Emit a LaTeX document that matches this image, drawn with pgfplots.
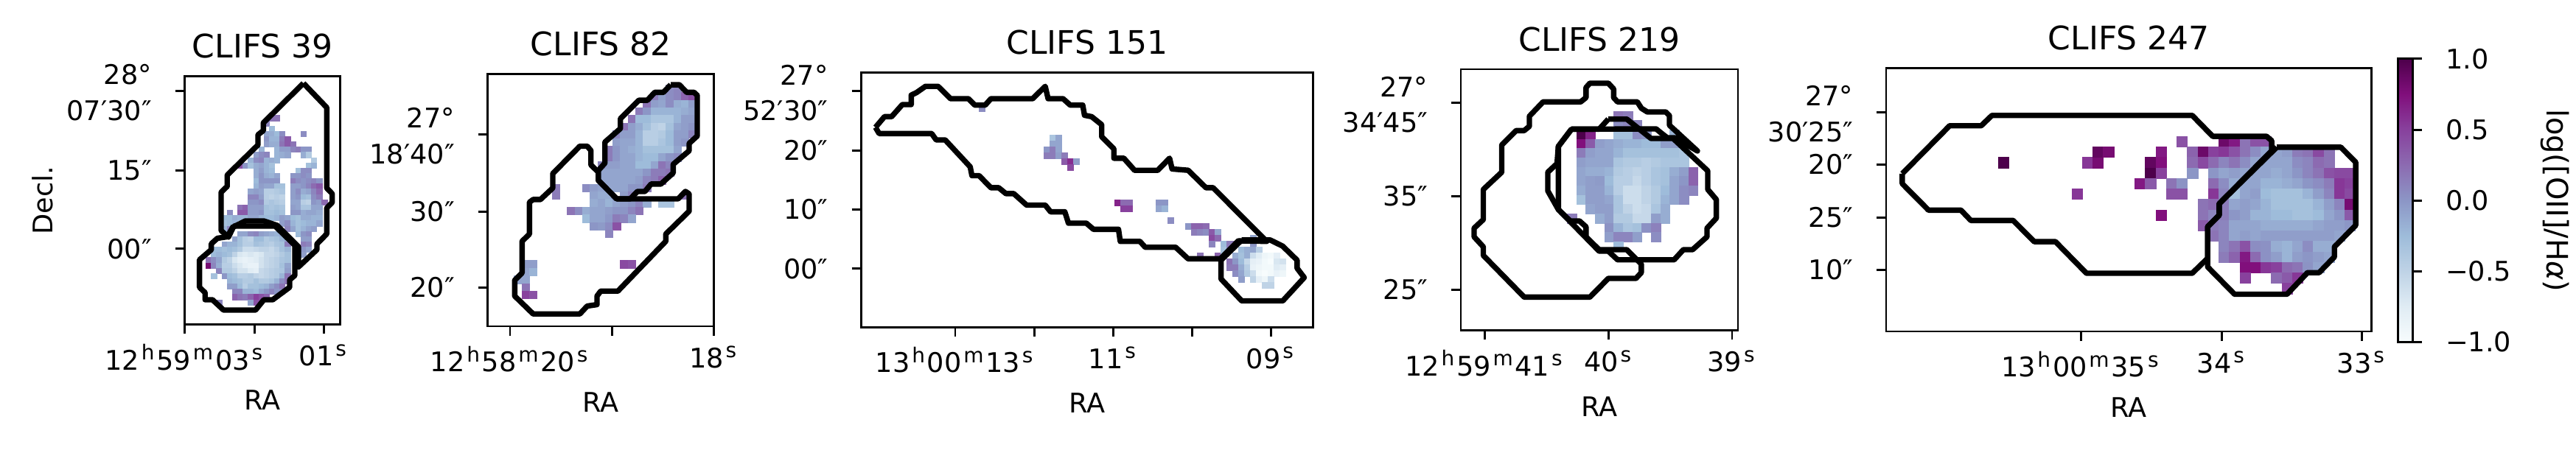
\documentclass[border=0pt]{standalone}
\usepackage{fontspec}
\setmainfont{DejaVu Sans}
\usepackage{pgfplots}
\usepackage{pgfplotstable}
\pgfplotsset{compat=1.18}

\newcommand{\sps}[1]{\kern.7pt\raisebox{.37em}{\fontsize{7}{7}\selectfont #1}\kern.7pt}
\newcommand{\hms}[3]{#1\sps{h}#2\sps{m}#3\sps{s}}
\newcommand{\secs}[1]{#1\sps{s}}
\newcommand{\dms}[2]{\begin{tabular}{@{}r@{}}\rule{0pt}{11.5pt}#1\\#2\end{tabular}}

% cells: column, row, log([OII]/Ha)
\pgfplotstableread[row sep=\\]{i j v\\
8 -3 .2\\ 9 -3 .2\\ 7 -2 .1\\ 8 -1 -.25\\
7 0 -.1\\ 8 0 -.15\\ 9 0 -.25\\ 10 0 .05\\ 14 0 .05\\
7 1 0\\ 8 1 -.2\\ 9 1 -.2\\ 10 1 .15\\ 11 1 .35\\
7 2 -.05\\ 8 2 -.15\\ 9 2 -.15\\ 10 2 .2\\ 11 2 .35\\ 12 2 .2\\
6 3 -.2\\ 9 3 -.2\\ 10 3 -.05\\ 11 3 -.05\\ 12 3 .1\\ 13 3 .15\\ 14 3 0\\ 15 3 0\\
5 4 -.05\\ 6 4 .05\\ 7 4 .1\\ 9 4 -.2\\ 10 4 -.15\\ 11 4 -.1\\ 14 4 -.15\\ 15 4 -.4\\
4 5 -.2\\ 5 5 .05\\ 6 5 .1\\ 7 5 -.2\\ 8 5 -.15\\ 9 5 -.2\\ 16 5 -.4\\
2 6 .4\\ 3 6 0\\ 4 6 -.3\\ 5 6 -.15\\ 6 6 -.1\\ 7 6 -.2\\ 8 6 -.3\\ 15 6 -.3\\ 16 6 -.2\\
5 7 -.15\\ 6 7 -.05\\ 7 7 -.2\\ 8 7 -.25\\ 13 7 -.3\\ 14 7 .05\\ 15 7 .05\\
5 8 -.15\\ 6 8 0\\ 7 8 -.15\\ 8 8 -.2\\ 9 8 -.1\\ 12 8 0\\ 13 8 0\\ 14 8 .05\\ 15 8 0\\
5 9 -.25\\ 6 9 0\\ 7 9 0\\ 8 9 0\\ 9 9 0\\ 12 9 .15\\ 13 9 .05\\ 14 9 0\\ 15 9 .05\\ 16 9 .1\\ 17 9 0\\
5 10 -.2\\ 6 10 -.05\\ 7 10 -.1\\ 8 10 -.1\\ 9 10 -.3\\ 10 10 -.3\\ 12 10 -.05\\ 13 10 -.05\\ 14 10 0\\ 15 10 .1\\ 16 10 .25\\ 17 10 .35\\
4 11 -.1\\ 5 11 -.05\\ 6 11 -.1\\ 7 11 -.45\\ 8 11 -.45\\ 9 11 -.4\\ 10 11 -.35\\ 12 11 -.05\\ 13 11 .05\\ 14 11 -.15\\ 15 11 -.1\\ 16 11 .1\\ 17 11 .25\\
4 12 .1\\ 5 12 .1\\ 6 12 -.05\\ 7 12 -.45\\ 8 12 -.5\\ 9 12 -.45\\ 10 12 -.5\\ 12 12 -.05\\ 13 12 0\\ 14 12 -.25\\ 15 12 -.3\\ 16 12 .05\\ 17 12 .15\\
4 13 0\\ 5 13 0\\ 6 13 .05\\ 7 13 -.4\\ 8 13 -.35\\ 9 13 -.4\\ 10 13 -.45\\ 12 13 -.1\\ 13 13 -.1\\ 14 13 -.45\\ 15 13 -.5\\ 16 13 0\\ 17 13 -.05\\ 18 13 .25\\
2 14 .2\\ 3 14 .3\\ 4 14 -.05\\ 5 14 -.05\\ 6 14 -.05\\ 7 14 -.3\\ 8 14 -.35\\ 9 14 -.3\\ 10 14 -.35\\ 12 14 -.05\\ 13 14 -.1\\ 14 14 -.35\\ 15 14 -.35\\ 16 14 -.1\\ 17 14 -.1\\
0 15 .05\\ 2 15 .35\\ 3 15 .35\\ 4 15 -.05\\ 5 15 -.05\\ 6 15 0\\ 7 15 -.3\\ 8 15 -.3\\ 9 15 -.25\\ 10 15 -.3\\ 12 15 0\\ 13 15 0\\ 14 15 -.15\\ 15 15 -.1\\ 16 15 -.1\\ 17 15 -.15\\
-1 16 -.25\\ 0 16 -.25\\ 1 16 -.15\\ 2 16 -.2\\ 3 16 -.2\\ 4 16 -.1\\ 5 16 -.1\\ 6 16 -.2\\ 7 16 -.25\\ 8 16 -.25\\ 9 16 -.2\\ 10 16 -.05\\ 11 16 -.1\\ 12 16 -.25\\ 13 16 -.3\\ 14 16 -.15\\ 15 16 -.15\\ 16 16 -.2\\ 17 16 -.2\\
-1 17 -.3\\ 0 17 -.25\\ 1 17 -.2\\ 10 17 -.05\\ 11 17 .05\\ 12 17 -.2\\ 13 17 -.3\\ 14 17 -.25\\ 15 17 -.2\\ 16 17 -.2\\ 17 17 -.1\\
-1 18 -.2\\ 0 18 .1\\ 11 18 .1\\ 12 18 -.1\\ 13 18 -.3\\ 14 18 -.2\\ 15 18 -.1\\ 16 18 -.05\\
2 19 -.1\\ 3 19 -.1\\ 4 19 .05\\ 5 19 .1\\ 6 19 -.05\\ 7 19 -.1\\ 8 19 -.15\\ 9 19 -.2\\ 10 19 -.1\\ 13 19 -.25\\ 14 19 0\\ 15 19 .05\\
1 20 -.1\\ 2 20 -.3\\ 3 20 -.45\\ 4 20 -.5\\ 5 20 -.25\\ 6 20 -.25\\ 7 20 -.4\\ 8 20 -.35\\ 9 20 -.3\\ 10 20 -.2\\ 11 20 -.1\\ 14 20 -.05\\ 15 20 -.05\\
-1 21 -.1\\ 0 21 -.2\\ 1 21 -.2\\ 2 21 -.3\\ 3 21 -.45\\ 4 21 -.45\\ 5 21 -.3\\ 6 21 -.35\\ 7 21 -.4\\ 8 21 -.45\\ 9 21 -.35\\ 10 21 -.3\\ 11 21 .15\\ 14 21 .15\\ 15 21 .1\\
-3 22 -.25\\ -2 22 -.25\\ -1 22 -.3\\ 0 22 -.25\\ 1 22 -.3\\ 2 22 -.4\\ 3 22 -.6\\ 4 22 -.6\\ 5 22 -.55\\ 6 22 -.5\\ 7 22 -.5\\ 8 22 -.55\\ 9 22 -.45\\ 10 22 -.3\\ 11 22 -.2\\ 14 22 0\\ 15 22 -.1\\
-3 23 -.25\\ -2 23 -.2\\ -1 23 -.25\\ 0 23 -.3\\ 1 23 -.5\\ 2 23 -.7\\ 3 23 -.75\\ 4 23 -.7\\ 5 23 -.75\\ 6 23 -.7\\ 7 23 -.55\\ 8 23 -.55\\ 9 23 -.5\\ 10 23 -.4\\ 11 23 -.3\\ 14 23 -.05\\
-4 24 .2\\ -3 24 .05\\ -2 24 -.1\\ -1 24 -.4\\ 0 24 -.5\\ 1 24 -.7\\ 2 24 -.8\\ 3 24 -.85\\ 4 24 -.8\\ 5 24 -.75\\ 6 24 -.65\\ 7 24 -.55\\ 8 24 -.5\\ 9 24 -.45\\ 10 24 -.35\\ 11 24 -.3\\
-4 25 .8\\ -3 25 .1\\ -2 25 -.15\\ -1 25 -.45\\ 0 25 -.45\\ 1 25 -.6\\ 2 25 -.7\\ 3 25 -.8\\ 4 25 -.85\\ 5 25 -.85\\ 6 25 -.65\\ 7 25 -.55\\ 8 25 -.5\\ 9 25 -.45\\ 10 25 -.3\\ 11 25 -.1\\
-2 26 .1\\ -1 26 -.4\\ 0 26 -.4\\ 1 26 -.5\\ 2 26 -.65\\ 3 26 -.65\\ 4 26 -.75\\ 5 26 -.8\\ 6 26 -.55\\ 7 26 -.5\\ 8 26 -.45\\ 9 26 -.4\\ 10 26 -.35\\ 11 26 -.05\\
-3 27 -.3\\ -1 27 0\\ 0 27 -.25\\ 1 27 -.3\\ 2 27 -.45\\ 3 27 -.45\\ 4 27 -.4\\ 5 27 -.5\\ 6 27 -.55\\ 7 27 -.5\\ 8 27 -.45\\ 9 27 -.4\\ 10 27 -.2\\ 11 27 .2\\
0 28 -.2\\ 1 28 -.25\\ 2 28 -.3\\ 3 28 -.4\\ 4 28 -.4\\ 5 28 -.3\\ 6 28 -.4\\ 7 28 -.4\\ 8 28 -.35\\ 9 28 -.2\\ 10 28 .05\\ 11 28 .2\\
0 29 -.05\\ 1 29 -.05\\ 2 29 -.25\\ 3 29 -.45\\ 4 29 -.3\\ 5 29 -.3\\ 6 29 -.25\\ 7 29 -.2\\ 8 29 -.05\\ 9 29 .05\\ 10 29 .2\\
1 30 .1\\ 2 30 .1\\ 3 30 -.2\\ 4 30 -.2\\ 5 30 -.25\\ 6 30 -.1\\ 7 30 0\\ 8 30 .1\\ 9 30 0\\ 10 30 .05\\
1 31 .3\\ 2 31 .2\\ 3 31 .15\\ 4 31 .3\\ 5 31 .5\\ 6 31 .4\\ 7 31 .3\\
4 32 -.1\\ 5 32 .4\\ -2 32 .1\\
}\cellsA

\pgfplotstableread[row sep=\\]{i j v\\
15 0 .05\\ 16 0 .1\\
13 1 .15\\ 14 1 -.05\\ 15 1 .05\\ 16 1 .1\\ 17 1 .3\\ 18 1 .4\\
12 2 .2\\ 13 2 -.05\\ 14 2 -.1\\ 15 2 .05\\ 16 2 -.15\\ 17 2 -.2\\ 18 2 -.05\\
11 3 .15\\ 12 3 0\\ 13 3 -.2\\ 14 3 -.2\\ 15 3 -.2\\ 16 3 -.2\\ 17 3 -.15\\ 18 3 -.1\\
10 4 .2\\ 11 4 -.25\\ 12 4 -.25\\ 13 4 -.35\\ 14 4 -.35\\ 15 4 -.35\\ 16 4 -.2\\ 17 4 -.05\\ 18 4 -.05\\
9 5 .2\\ 10 5 -.05\\ 11 5 -.15\\ 12 5 -.3\\ 13 5 -.45\\ 14 5 -.5\\ 15 5 -.3\\ 16 5 -.1\\ 17 5 -.05\\ 18 5 0\\
8 6 .1\\ 9 6 -.05\\ 10 6 -.05\\ 11 6 -.2\\ 12 6 -.45\\ 13 6 -.45\\ 14 6 -.4\\ 15 6 -.25\\ 16 6 -.05\\ 17 6 -.05\\ 18 6 .1\\
8 7 -.05\\ 9 7 -.1\\ 10 7 -.1\\ 11 7 -.2\\ 12 7 -.45\\ 13 7 -.45\\ 14 7 -.35\\ 15 7 -.25\\ 16 7 -.05\\ 17 7 0\\
7 8 .15\\ 8 8 0\\ 9 8 -.1\\ 10 8 -.15\\ 11 8 -.2\\ 12 8 -.3\\ 13 8 -.3\\ 14 8 -.3\\ 15 8 -.3\\ 16 8 -.1\\
7 9 .15\\ 8 9 0\\ 9 9 -.1\\ 10 9 -.1\\ 11 9 -.2\\ 12 9 -.25\\ 13 9 -.25\\ 14 9 -.1\\ 15 9 0\\ 16 9 .05\\
6 10 .1\\ 7 10 -.05\\ 8 10 -.05\\ 9 10 -.1\\ 10 10 -.1\\ 11 10 -.25\\ 12 10 -.25\\ 13 10 -.1\\ 14 10 .2\\ 15 10 .1\\
6 11 -.1\\ 7 11 -.1\\ 8 11 -.1\\ 9 11 -.1\\ 10 11 -.1\\ 11 11 -.1\\ 12 11 0\\ 13 11 .15\\ 14 11 .15\\ 15 11 .2\\
6 12 -.1\\ 7 12 -.1\\ 8 12 -.1\\ 9 12 -.1\\ 10 12 -.1\\ 11 12 -.05\\ 12 12 .1\\ 13 12 .15\\ 14 12 .3\\
0 13 .15\\ 4 13 .05\\ 5 13 -.05\\ 6 13 -.1\\ 7 13 -.1\\ 8 13 -.1\\ 9 13 -.1\\ 10 13 0\\ 11 13 0\\ 12 13 .15\\
0 14 .15\\ 5 14 -.1\\ 6 14 -.15\\ 7 14 -.15\\ 9 14 -.05\\ 10 14 .1\\ 17 14 .2\\
5 15 -.15\\ 6 15 -.1\\ 7 15 -.2\\ 8 15 -.1\\ 9 15 -.05\\ 10 15 0\\ 11 15 .1\\ 12 15 -.15\\ 14 15 -.35\\ 15 15 -.35\\
2 16 .2\\ 3 16 .05\\ 4 16 -.15\\ 5 16 -.1\\ 6 16 -.1\\ 7 16 -.05\\ 8 16 0\\ 9 16 0\\ 10 16 .1\\ 11 16 .2\\
4 17 -.25\\ 5 17 -.1\\ 6 17 -.1\\ 7 17 -.02\\ 8 17 .15\\ 9 17 .1\\ 10 17 -.1\\
5 18 0\\ 6 18 -.03\\ 7 18 .05\\ 8 18 .4\\
7 19 .1\\
9 23 .45\\ 10 23 .4\\ -4 23 -.05\\ -3 23 -.05\\
-4 24 -.1\\ -3 24 -.2\\
-5 25 -.1\\ -4 25 -.1\\
-4 26 .2\\
-4 27 .5\\ -3 27 .4\\
}\cellsB

\pgfplotstableread[row sep=\\]{i j v\\
-36 -21 .05\\
-24 -16 -.35\\ -23 -16 -.1\\
-24 -15 -.1\\ -23 -15 -.1\\
-25 -14 0\\ -24 -14 .15\\ -23 -14 -.1\\
-25 -13 .15\\ -24 -13 .15\\ -23 -13 -.05\\ -22 -13 .15\\
-22 -12 .35\\ -21 -12 .6\\ -20 -12 -.05\\
-21 -11 .45\\
-13 -5 .65\\ -12 -5 .25\\ -11 -5 .25\\ -6 -5 0\\ -5 -5 0\\
-12 -4 .5\\ -11 -4 .5\\ -6 -4 -.1\\ -5 -4 -.2\\
-4 -2 .05\\
-1 -1 0\\ 0 -1 .3\\ 1 -1 .3\\ 2 -1 .25\\
0 0 .15\\ 1 0 .1\\ 2 0 .05\\ 3 0 .35\\ 4 0 -.1\\
3 1 .45\\ 4 1 .25\\ 10 1 -.1\\
3 2 .1\\ 5 2 -.25\\ 6 2 .15\\ 7 2 .2\\ 10 2 0\\
5 3 -.3\\ 6 3 .1\\ 8 3 -.25\\ 9 3 -.15\\ 10 3 -.1\\ 11 3 -.45\\
1 4 .2\\ 4 4 .3\\ 5 4 -.3\\ 7 4 -.15\\ 8 4 -.3\\ 9 4 -.15\\ 10 4 -.6\\ 11 4 -.75\\ 12 4 -.9\\ 13 4 -.95\\ 14 4 -.8\\
6 5 .2\\ 7 5 0\\ 8 5 -.25\\ 9 5 -.55\\ 10 5 -.8\\ 11 5 -.85\\ 12 5 -.95\\ 13 5 -1\\ 14 5 -.7\\ 15 5 -.65\\
6 6 .15\\ 7 6 .15\\ 8 6 -.15\\ 9 6 -.45\\ 10 6 -.85\\ 11 6 -.9\\ 12 6 -.95\\ 13 6 -.95\\ 14 6 -.75\\ 15 6 -.8\\
7 7 .05\\ 8 7 -.1\\ 9 7 -.4\\ 10 7 -.6\\ 11 7 -.95\\ 12 7 -1\\ 13 7 -.95\\ 14 7 -.85\\ 15 7 -.9\\
8 8 -.05\\ 10 8 -.5\\ 11 8 -.8\\ 12 8 -.9\\ 13 8 -.6\\
12 9 -.5\\ 13 9 -.5\\
}\cellsC

\pgfplotstableread[row sep=\\]{i j v\\
4 0 .2\\ 5 0 .15\\
4 1 .05\\ 5 1 .1\\ 6 1 .1\\
0 2 1\\ 1 2 .65\\ 4 2 -.3\\ 5 2 -.3\\ 6 2 .05\\ 7 2 0\\ 10 2 -.2\\
0 3 .75\\ 1 3 .35\\ 2 3 -.05\\ 3 3 -.1\\ 4 3 -.15\\ 5 3 -.2\\ 6 3 -.2\\ 7 3 -.25\\ 8 3 -.25\\ 9 3 -.05\\ 10 3 -.05\\
0 4 .15\\ 1 4 -.05\\ 2 4 -.1\\ 3 4 -.1\\ 4 4 -.2\\ 5 4 -.3\\ 6 4 -.3\\ 7 4 -.3\\ 8 4 -.3\\ 9 4 -.3\\ 10 4 -.3\\ 11 4 -.35\\
0 5 -.05\\ 1 5 -.1\\ 2 5 -.1\\ 3 5 -.1\\ 4 5 -.35\\ 5 5 -.4\\ 6 5 -.4\\ 7 5 -.45\\ 8 5 -.4\\ 9 5 -.35\\ 10 5 -.35\\ 11 5 -.35\\
0 6 -.1\\ 1 6 -.15\\ 2 6 -.15\\ 3 6 -.2\\ 4 6 -.4\\ 5 6 -.45\\ 6 6 -.5\\ 7 6 -.45\\ 8 6 -.35\\ 9 6 -.3\\ 10 6 -.15\\ 11 6 -.05\\ 12 6 .3\\
0 7 -.1\\ 1 7 -.05\\ 2 7 -.03\\ 3 7 -.25\\ 4 7 -.45\\ 5 7 -.45\\ 6 7 -.55\\ 7 7 -.45\\ 8 7 -.35\\ 9 7 -.3\\ 10 7 -.1\\ 11 7 0\\ 12 7 .3\\
0 8 -.15\\ 1 8 -.05\\ 2 8 -.05\\ 3 8 -.2\\ 4 8 -.45\\ 5 8 -.6\\ 6 8 -.6\\ 7 8 -.5\\ 8 8 -.4\\ 9 8 -.25\\ 10 8 -.1\\ 11 8 .05\\ 12 8 .1\\
0 9 -.3\\ 1 9 -.05\\ 2 9 -.05\\ 3 9 -.1\\ 4 9 -.35\\ 5 9 -.6\\ 6 9 -.6\\ 7 9 -.5\\ 8 9 -.4\\ 9 9 -.2\\ 10 9 -.1\\ 11 9 .05\\
1 10 -.1\\ 2 10 -.05\\ 3 10 -.05\\ 4 10 -.35\\ 5 10 -.5\\ 6 10 -.6\\ 7 10 -.55\\ 8 10 -.35\\ 9 10 -.15\\
-1 11 .15\\ 2 11 -.15\\ 3 11 -.05\\ 4 11 -.4\\ 5 11 -.4\\ 6 11 -.55\\ 7 11 -.55\\ 8 11 -.05\\ 9 11 -.15\\
3 12 .02\\ 4 12 -.2\\ 5 12 -.35\\ 6 12 -.3\\ 7 12 .03\\ 8 12 .12\\
3 13 -.05\\ 4 13 .1\\ 5 13 .1\\ 6 13 -.05\\ 8 13 .05\\
4 14 -.25\\
}\cellsD

\pgfplotstableread[row sep=\\]{i j v\\
-16 2 1\\ -8 2 .55\\ -7 2 .8\\ -7 1 .9\\ -6 1 .8\\ -9 5 .55\\ -1 7 .75\\
1 0 .4\\ 5 0 .85\\ 6 0 .7\\ 7 0 .2\\ 8 0 .4\\ 9 0 .4\\
-1 1 .7\\ 2 1 .3\\ 3 1 .85\\ 4 1 .5\\ 5 1 .55\\ 6 1 .4\\ 7 1 .2\\ 8 1 .05\\ 9 1 -.1\\ 10 1 -.1\\ 11 1 -.05\\ 12 1 .15\\ 13 1 .2\\ 14 1 .45\\ 15 1 .2\\
-2 2 .9\\ -1 2 .75\\ 2 2 .25\\ 3 2 .45\\ 4 2 .25\\ 5 2 .1\\ 6 2 .2\\ 7 2 .05\\ 8 2 -.1\\ 9 2 -.1\\ 10 2 -.1\\ 11 2 -.1\\ 12 2 .05\\ 13 2 .1\\ 14 2 .25\\ 15 2 .2\\
-2 3 1\\ -1 3 .5\\ 2 3 0\\ 4 3 0\\ 5 3 -.1\\ 6 3 -.05\\ 7 3 -.1\\ 8 3 -.1\\ 9 3 -.1\\ 10 3 -.15\\ 11 3 -.1\\ 12 3 0\\ 13 3 .1\\ 14 3 .2\\ 15 3 .4\\ 16 3 .45\\ 17 3 .45\\
-3 4 .7\\ -2 4 .35\\ 0 4 .2\\ 1 4 .02\\ 4 4 .25\\ 5 4 .05\\ 6 4 -.15\\ 7 4 -.1\\ 8 4 -.1\\ 9 4 -.2\\ 10 4 -.2\\ 11 4 -.15\\ 12 4 -.1\\ 13 4 0\\ 14 4 .05\\ 15 4 .15\\ 16 4 .55\\ 17 4 .5\\
0 5 .4\\ 1 5 .4\\ 4 5 .55\\ 5 5 .1\\ 6 5 -.3\\ 7 5 -.1\\ 8 5 -.05\\ 9 5 -.25\\ 10 5 -.3\\ 11 5 -.3\\ 12 5 -.3\\ 13 5 -.2\\ 14 5 -.05\\ 15 5 .1\\ 16 5 .55\\ 17 5 .45\\
3 6 .2\\ 4 6 .25\\ 5 6 .15\\ 6 6 -.1\\ 7 6 -.05\\ 8 6 -.1\\ 9 6 -.2\\ 10 6 -.3\\ 11 6 -.3\\ 12 6 -.3\\ 13 6 -.3\\ 14 6 -.2\\ 15 6 -.05\\ 16 6 .1\\ 17 6 .8\\
3 7 .2\\ 4 7 .1\\ 5 7 .15\\ 6 7 0\\ 7 7 -.05\\ 8 7 -.2\\ 9 7 -.2\\ 10 7 -.25\\ 11 7 -.25\\ 12 7 -.3\\ 13 7 -.3\\ 14 7 -.25\\ 15 7 -.1\\ 16 7 0\\ 17 7 .35\\
3 8 .35\\ 4 8 .15\\ 5 8 .1\\ 6 8 -.1\\ 7 8 -.1\\ 8 8 -.1\\ 9 8 -.15\\ 10 8 -.15\\ 11 8 -.15\\ 12 8 -.15\\ 13 8 -.15\\ 14 8 -.1\\ 15 8 -.05\\ 16 8 -.05\\ 17 8 0\\
4 9 .2\\ 5 9 .1\\ 6 9 -.1\\ 7 9 -.05\\ 8 9 -.1\\ 9 9 -.05\\ 10 9 -.05\\ 11 9 -.05\\ 12 9 -.05\\ 13 9 -.05\\ 14 9 -.05\\ 15 9 -.05\\ 16 9 -.1\\
5 10 .1\\ 6 10 .2\\ 7 10 .4\\ 8 10 .05\\ 9 10 .03\\ 10 10 -.15\\ 11 10 -.2\\ 12 10 -.1\\ 13 10 .05\\ 14 10 -.15\\ 15 10 -.15\\
5 11 .15\\ 6 11 .3\\ 7 11 .7\\ 8 11 .25\\ 9 11 .03\\ 10 11 -.05\\ 11 11 -.2\\ 12 11 -.05\\ 13 11 0\\ 14 11 -.05\\ 15 11 -.1\\
7 12 .75\\ 8 12 .75\\ 9 12 .55\\ 10 12 .5\\ 11 12 .25\\ 12 12 .2\\ 13 12 .02\\ 14 12 -.1\\
7 13 .5\\ 10 13 .25\\ 11 13 .35\\ 12 13 .55\\
11 14 .5\\
}\cellsE

\pgfplotsset{
  colormap={bupu}{rgb255=(247,252,253) rgb255=(224,236,244) rgb255=(191,211,230)
    rgb255=(158,188,218) rgb255=(140,150,198) rgb255=(140,107,177)
    rgb255=(136,65,157) rgb255=(129,15,124) rgb255=(77,0,75)},
  box/.style n args={4}{
    scale only axis, anchor=center,
    at={({(#1+#2)/2*0.25pt},{(611-(#3+#4)/2)*0.25pt})},
    width={(#2-#1)*0.25pt}, height={(#4-#3)*0.25pt},
    xmin=#1, xmax=#2, ymin=#3, ymax=#4, y dir=reverse,
  },
  panel/.style n args={4}{
    box={#1}{#2}{#3}{#4},
    axis line style={line width=.73pt},
    tick style={black, line width=.73pt},
    major tick length=3.2pt, tick align=outside,
    xtick pos=bottom, ytick pos=left,
    colormap name=bupu, point meta min=-1, point meta max=1,
    tick label style={font=\fontsize{9.17}{12.2}\selectfont},
    yticklabel shift=4.5pt,
    label style={font=\fontsize{9.17}{11}\selectfont},
    title style={font=\fontsize{11}{13}\selectfont, yshift=-3.5pt},
    xlabel=RA,
  },
  lines/.style n args={4}{box={#1}{#2}{#3}{#4}, hide axis},
  pix/.style={scatter, only marks, mark=square*, mark size=#1,
    mark options={line width=.1pt}, point meta=\thisrow{v},
    scatter/use mapped color={draw=mapped color, fill=mapped color}},
  outline/.style={black, line width=1.85pt, line join=round, no marks},
}

\begin{document}
\begin{tikzpicture}
\path[use as bounding box] (0,0) rectangle (873.75pt,152.75pt);

\begin{axis}[panel={250.7}{461.7}{103.3}{440.4},
  title={CLIFS 39}, ylabel={Decl.}, ylabel shift=-2.2pt,
  xtick={250.7,345.3,439.3}, xticklabels={\hms{12}{59}{03},,\secs{01}},
  ytick={123.1,231.5,337.9}, yticklabels={\dms{28°}{07′30″},15″,00″}]
\addplot[pix=0.894pt] table[x expr={308+7.15*(\thisrow{i}+.5)}, y expr={178+7.15*(\thisrow{j}+.5)}] {\cellsA};
\end{axis}
\begin{axis}[lines={250.7}{461.7}{103.3}{440.4}]
\addplot[outline] coordinates {(411.7,113)(443.3,146)(443.3,255.3)(450.7,263)(450.7,274.8)(443.3,282.5)(443.3,317.6)(430,331.3)(430,339)(405,362.4)(405,335)(376,306)(358,300)(333,300)(316.7,308)(310,322)(300,313)(300,261)(308.3,253)(308.3,237.7)(350,196.8)(350,183)(357.3,177.3)(357.3,166.8)(411.7,113)};
\addplot[outline] coordinates {(316.7,307)(373.3,307)(400,333)(400,374)(393,380)(393,390)(370,407)(358,407)(346.7,421)(303.3,421)(288.3,407)(278.3,407)(278.3,397.5)(270.7,390)(270.7,352.7)(286.7,339)(286.7,331)(295,323.5)(308.3,321.5)(316.7,307)};
\end{axis}

\begin{axis}[panel={661.7}{968.7}{101.3}{442.3},
  title={CLIFS 82},
  xtick={692,830.3,968.7}, xticklabels={\hms{12}{58}{20},,\secs{18}},
  ytick={182.8,287.2,389.7}, yticklabels={\dms{27°}{18′40″},30″,20″}]
\addplot[pix=1.29pt] table[x expr={749+10.3*(\thisrow{i}+.5)}, y expr={115.7+10.33*(\thisrow{j}+.5)}] {\cellsB};
\end{axis}
\begin{axis}[lines={661.7}{968.7}{101.3}{442.3}]
\addplot[outline] coordinates {(836.7,270)(920,270)(930,260)(935,263.3)(935,286.7)(903.3,317.6)(903.3,327.4)(838.3,394.8)(815,394.8)(810,401.4)(810,413)(796.7,415)(786.7,425.6)(723.3,425.6)(698.3,401.4)(698.3,380)(708.3,370.2)(708.3,327.4)(718.3,317.6)(718.3,274.7)(723.3,270.9)(733.3,270.9)(750,255.3)(750,235.8)(786.7,198.8)(796.7,198.8)(801.7,204.6)(801.7,224)(811.7,233.8)(811.7,245)(836.7,270)};
\addplot[outline] coordinates {(910,115.7)(921.7,115.7)(931.7,126)(941.7,126)(946,130)(946,185)(935,195)(935,205)(913.3,223.3)(913.3,235)(896.7,250)(883.3,250)(875,260)(865,260)(855,270)(836.7,270)(811.7,245)(811.7,231.7)(820.7,221.7)(820.7,193.3)(841.7,175)(841.7,161.7)(866.7,136.7)(878.3,136.7)(888.3,126)(900,126)(910,115.7)};
\end{axis}

\begin{axis}[panel={1168.5}{1781.6}{98.3}{444.2},
  title={CLIFS 151},
  xtick={1296,1403.5,1510.2,1617.3,1724.4}, xticklabels={\hms{13}{00}{13},,\secs{11},,\secs{09}},
  ytick={123.8,204.6,284.4,364.8}, yticklabels={\dms{27°}{52′30″},20″,10″,00″}]
\addplot[pix=1pt] table[x expr={1616+8*(\thisrow{i}+.5)}, y expr={310.7+8*(\thisrow{j}+.5)}] {\cellsC};
\end{axis}
\begin{axis}[lines={1168.5}{1781.6}{98.3}{444.2}]
\addplot[outline] coordinates {(1187.8,172.9)(1200,158.4)(1209.7,158.4)(1224.2,142)(1236.3,142)(1236.3,129.2)(1243.6,125.6)(1255.7,117.2)(1272.7,117.2)(1289.6,134)(1313.9,134)(1322.6,142.7)(1336.7,142.7)(1344.4,134)(1401.1,134)(1418.1,117.2)(1422,134)(1442.3,134)(1452,142.7)(1469,142.7)(1471.4,156.5)(1481.1,158.4)(1494.7,169.3)(1494.7,185.7)(1511.2,202)(1511.2,214.8)(1524.7,214.8)(1539.3,231.2)(1570.8,231.2)(1586.8,214.8)(1590.2,229.4)(1612,231.2)(1636.2,254.9)(1645.9,254.9)(1718.6,327.7)(1680,327)(1655.6,351.4)(1612,351.4)(1595,335.7)(1553.8,335.7)(1546.5,327.7)(1519.9,327.7)(1517.5,311.3)(1483.5,311.3)(1473.8,303)(1449.6,303)(1444.7,287.6)(1425.4,287.6)(1418.1,278.5)(1392.9,278.5)(1375.4,262.9)(1364.8,262.9)(1355,254.9)(1344.4,254.9)(1328.4,238.5)(1318.7,238.5)(1316.3,226.5)(1282.4,190)(1270.2,190)(1264,181.3)(1192.7,181.3)(1187.8,172.9)};
\addplot[outline] coordinates {(1684.7,325.9)(1723.5,325.9)(1740.4,334.3)(1759.8,353.2)(1759.8,364.1)(1769.5,376.9)(1740.4,408.5)(1684.7,408.5)(1656.6,378.7)(1656.6,353.2)(1684.7,325.9)};
\end{axis}

\begin{axis}[panel={1982}{2358}{94}{448.6},
  title={CLIFS 219},
  xtick={2014.3,2182.5,2350}, xticklabels={\hms{12}{59}{41},\secs{40},\secs{39}},
  ytick={139.9,266.2,393.2}, yticklabels={\dms{27°}{34′45″},35″,25″}]
\addplot[pix=1.58pt] table[x expr={2139+12.65*(\thisrow{i}+.5)}, y expr={151+12.65*(\thisrow{j}+.5)}] {\cellsD};
\end{axis}
\begin{axis}[lines={1982}{2358}{94}{448.6}]
\addplot[outline] coordinates {(2182.1,161.7)(2207.1,161.7)(2240,188)(2270,188)(2317,232)(2317,257.2)(2328.6,270.9)(2328.6,296.2)(2316,309.8)(2316,321.5)(2296.4,339)(2283.9,339)(2271.4,352.7)(2194.6,352.7)(2182.1,341)(2169.6,341)(2114.3,284.5)(2114.3,198.8)(2132.1,175.4)(2169.6,175.4)(2182.1,161.7)};
\addplot[outline] coordinates {(2132.1,175.4)(2247,175)(2253,180)(2262,187)(2272,187)(2303,205)(2265,170)(2265,157)(2260,152)(2235,152)(2227,147)(2221.4,138.3)(2194.6,138.3)(2189.3,132.5)(2189.3,120.8)(2182.1,113)(2157.1,113)(2151.8,118.9)(2151.8,132.5)(2144.6,138.3)(2093.6,138.3)(2075,157.8)(2075,171.5)(2067.9,177.3)(2057.1,177.3)(2037.5,196.8)(2037.5,233.8)(2012.5,257.2)(2012.5,298.1)(2000,309.8)(2000,321.5)(2012.5,335.2)(2012.5,346.8)(2067.9,403.4)(2157.1,403.4)(2182.1,378)(2219.6,378)(2226.8,370.2)(2226.8,358.5)(2207.1,339)(2169.6,339)(2151.8,321.5)(2151.8,307.9)(2142.9,300)(2130.4,300)(2114.3,284.5)(2100,259.2)(2100,233.8)(2112.5,222.1)(2114.3,198.8)(2132.1,175.4)};
\end{axis}

\begin{axis}[panel={2559}{3217.6}{92.4}{450},
  title={CLIFS 247},
  xtick={2823.2,3014.3,3204.4}, xticklabels={\hms{13}{00}{35},\secs{34},\secs{33}},
  ytick={152.4,223.3,295.4,366.3}, yticklabels={\dms{27°}{30′25″},20″,25″,10″},
  colorbar,
  colorbar style={
    at={(parent axis.center)}, anchor=center, xshift=85.22pt, yshift=-0.25pt,
    width=4.97pt, height=96.15pt,
    ytick={-1,-.5,0,.5,1},
    yticklabels={−1.0,−0.5,0.0,0.5,1.0},
    yticklabel pos=right,
    axis line style={line width=.73pt},
    tick style={black, line width=.73pt},
    major tick length=3.2pt, tick align=outside,
    ytick pos=right,
    yticklabel shift=4.5pt,
    ylabel={log([OII]/H\textit{α})},
    ylabel style={rotate=180},
    ylabel shift=3pt,
  }]
\addplot[pix=1.78pt] table[x expr={2939+14.25*(\thisrow{i}+.5)}, y expr={185+14.25*(\thisrow{j}+.5)}] {\cellsE};
\end{axis}
\begin{axis}[lines={2559}{3217.6}{92.4}{450}]
\addplot[outline] coordinates {(2580.9,235.8)(2580.9,249.4)(2616.5,285.3)(2660.5,285.3)(2673.9,299.3)(2731.3,299.3)(2760,328.1)(2788.7,328.1)(2830.8,371)(2974.3,371)(2995.2,350.7)(2995.2,307.9)(3010.8,292.3)(3010.8,276.7)(3082.1,204.6)(3082.1,191)(3075.1,185.1)(3002.1,185.1)(2974.3,156.7)(2702.6,156.7)(2688,170.7)(2645.2,170.7)(2580.9,235.8)};
\addplot[outline] coordinates {(3089,199.9)(3175.9,199.9)(3196.1,220.2)(3196.1,305.9)(3167.2,335.2)(3167.2,348.8)(3146.4,370.2)(3130.7,370.2)(3102.9,399.5)(3031.7,399.5)(2995.2,362.4)(2995.2,307.9)(3010.8,292.3)(3010.8,276.7)(3089,199.9)};
\end{axis}
\end{tikzpicture}
\end{document}
